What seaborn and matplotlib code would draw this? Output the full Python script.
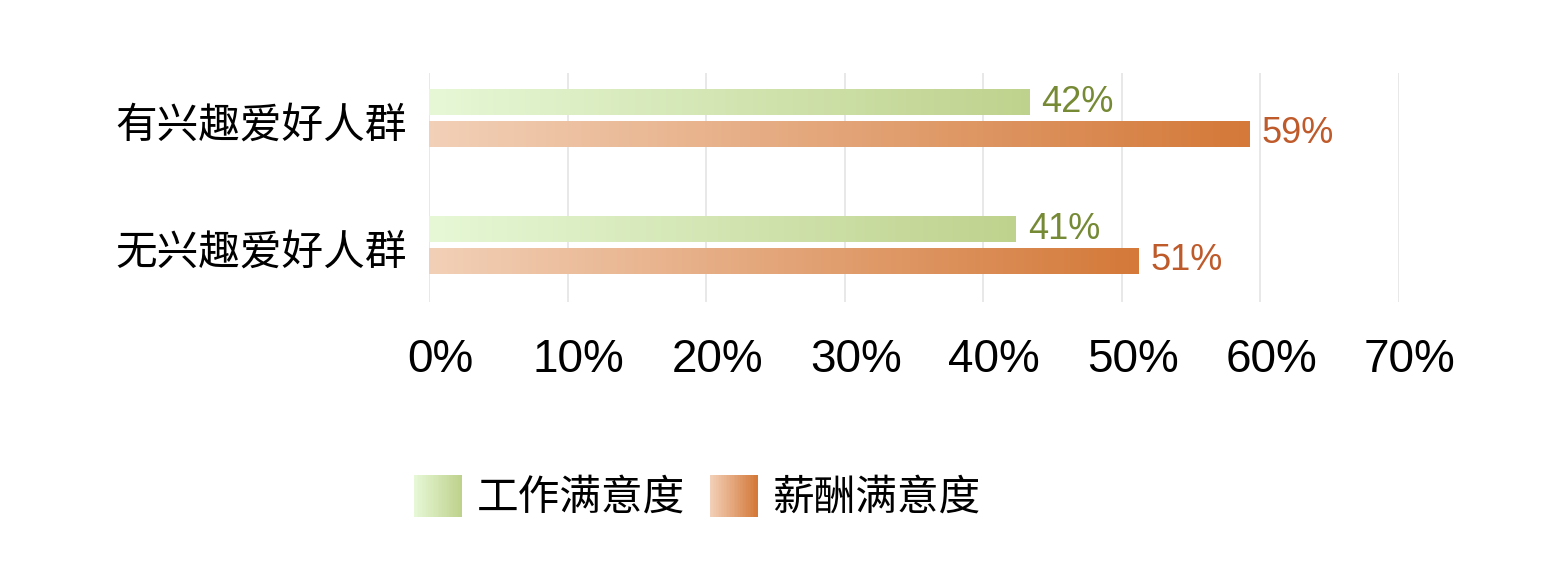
import numpy as np
import pandas as pd
import matplotlib
matplotlib.use("Agg")
import matplotlib.pyplot as plt
import matplotlib.transforms as mtransforms
from matplotlib.colors import LinearSegmentedColormap
from matplotlib.patches import Rectangle
from matplotlib.legend_handler import HandlerBase
import seaborn as sns

# ---------------- 数据 ----------------
groups = ["有兴趣爱好人群", "无兴趣爱好人群"]
series = ["工作满意度", "薪酬满意度"]
work_vals = [43.3, 42.3]
pay_vals = [59.2, 51.2]
work_labels = ["42%", "41%"]
pay_labels = ["59%", "51%"]
xticks = [0, 10, 20, 30, 40, 50, 60, 70]

# 渐变色（左 -> 右）
grad_colors = [("#e6f8d6", "#bfd28d"), ("#f2d0b7", "#d47939")]
label_colors = ["#768a36", "#bf5a2b"]

df = pd.DataFrame({
    "group": groups * 2,
    "series": [series[0]] * len(groups) + [series[1]] * len(groups),
    "value": work_vals + pay_vals,
})

sns.set_theme(style="white")
plt.rcParams["font.family"] = ["Noto Sans CJK SC", "DejaVu Sans"]
plt.rcParams["text.color"] = "black"
plt.rcParams["xtick.color"] = "black"
plt.rcParams["ytick.color"] = "black"
num_font = ["Liberation Sans", "DejaVu Sans"]

fig = plt.figure(figsize=(15.63, 5.71), dpi=100)
ax = fig.add_axes([429 / 1563, 1 - 302 / 571, (1399 - 429) / 1563, (302 - 73) / 571])

sns.barplot(data=df, x="value", y="group", hue="series", hue_order=series,
            orient="h", width=0.5, gap=0.18, legend=False, ax=ax)


# 每根条形单独画渐变
for cont, (c0, c1), lab, lc in zip(ax.containers, grad_colors,
                                   [work_labels, pay_labels], label_colors):
    cmap = LinearSegmentedColormap.from_list("g", [c0, c1])
    grad = np.linspace(0, 1, 256).reshape(1, -1)
    for bar in cont:
        x0, y0 = bar.get_x(), bar.get_y()
        w, h = bar.get_width(), bar.get_height()
        im = ax.imshow(grad, cmap=cmap, aspect="auto", extent=[x0, x0 + w, y0 + h, y0],
                       zorder=2, interpolation="bicubic")
        im.set_clip_path(bar)
        bar.set_facecolor("none")
        bar.set_edgecolor("none")
    ax.bar_label(cont, labels=lab, padding=9, fontsize=26, color=lc, family=num_font)

ax.set_xlim(0, 70)
ax.set_ylim(1.449, -0.354)
ax.set_xticks(xticks)
ax.set_xticklabels([f"{t}%" for t in xticks], fontsize=33, family=num_font)
ax.tick_params(axis="x", length=0, pad=26)
ax.tick_params(axis="y", length=0, pad=16, labelsize=30)
ax.set_xlabel("")
ax.set_ylabel("")
ax.grid(axis="x", color="#e8e8e8", linewidth=1.4)
ax.set_axisbelow(True)
for s in ax.spines.values():
    s.set_visible(False)

# 刻度标签位置微调
x_off = mtransforms.ScaledTranslation(11 / 100, 0, fig.dpi_scale_trans)
for t in ax.get_xticklabels():
    t.set_transform(t.get_transform() + x_off)
y_off = mtransforms.ScaledTranslation(0, -4 / 100, fig.dpi_scale_trans)
for t in ax.get_yticklabels():
    t.set_transform(t.get_transform() + y_off)


# ---------------- 渐变图例 ----------------
class GradientHandle:
    def __init__(self, c0, c1):
        self.c0, self.c1 = c0, c1


class HandlerGradient(HandlerBase):
    def create_artists(self, legend, orig_handle, xdescent, ydescent,
                       width, height, fontsize, trans):
        cmap = LinearSegmentedColormap.from_list("h", [orig_handle.c0, orig_handle.c1])
        n = 30
        arts = []
        for i in range(n):
            r = Rectangle((-xdescent + width * i / n, -ydescent), width / n * 1.05, height,
                          facecolor=cmap(i / (n - 1)), edgecolor="none", transform=trans)
            arts.append(r)
        return arts


handles = [GradientHandle(c0, c1) for c0, c1 in grad_colors]
fig.legend(handles, series, handler_map={GradientHandle: HandlerGradient()},
           loc="center", bbox_to_anchor=(0.446, 0.13), ncol=2, frameon=False,
           fontsize=30, handlelength=1.15, handleheight=1.18, handletextpad=0.36,
           columnspacing=0.6)

fig.savefig("out.png", dpi=100)
